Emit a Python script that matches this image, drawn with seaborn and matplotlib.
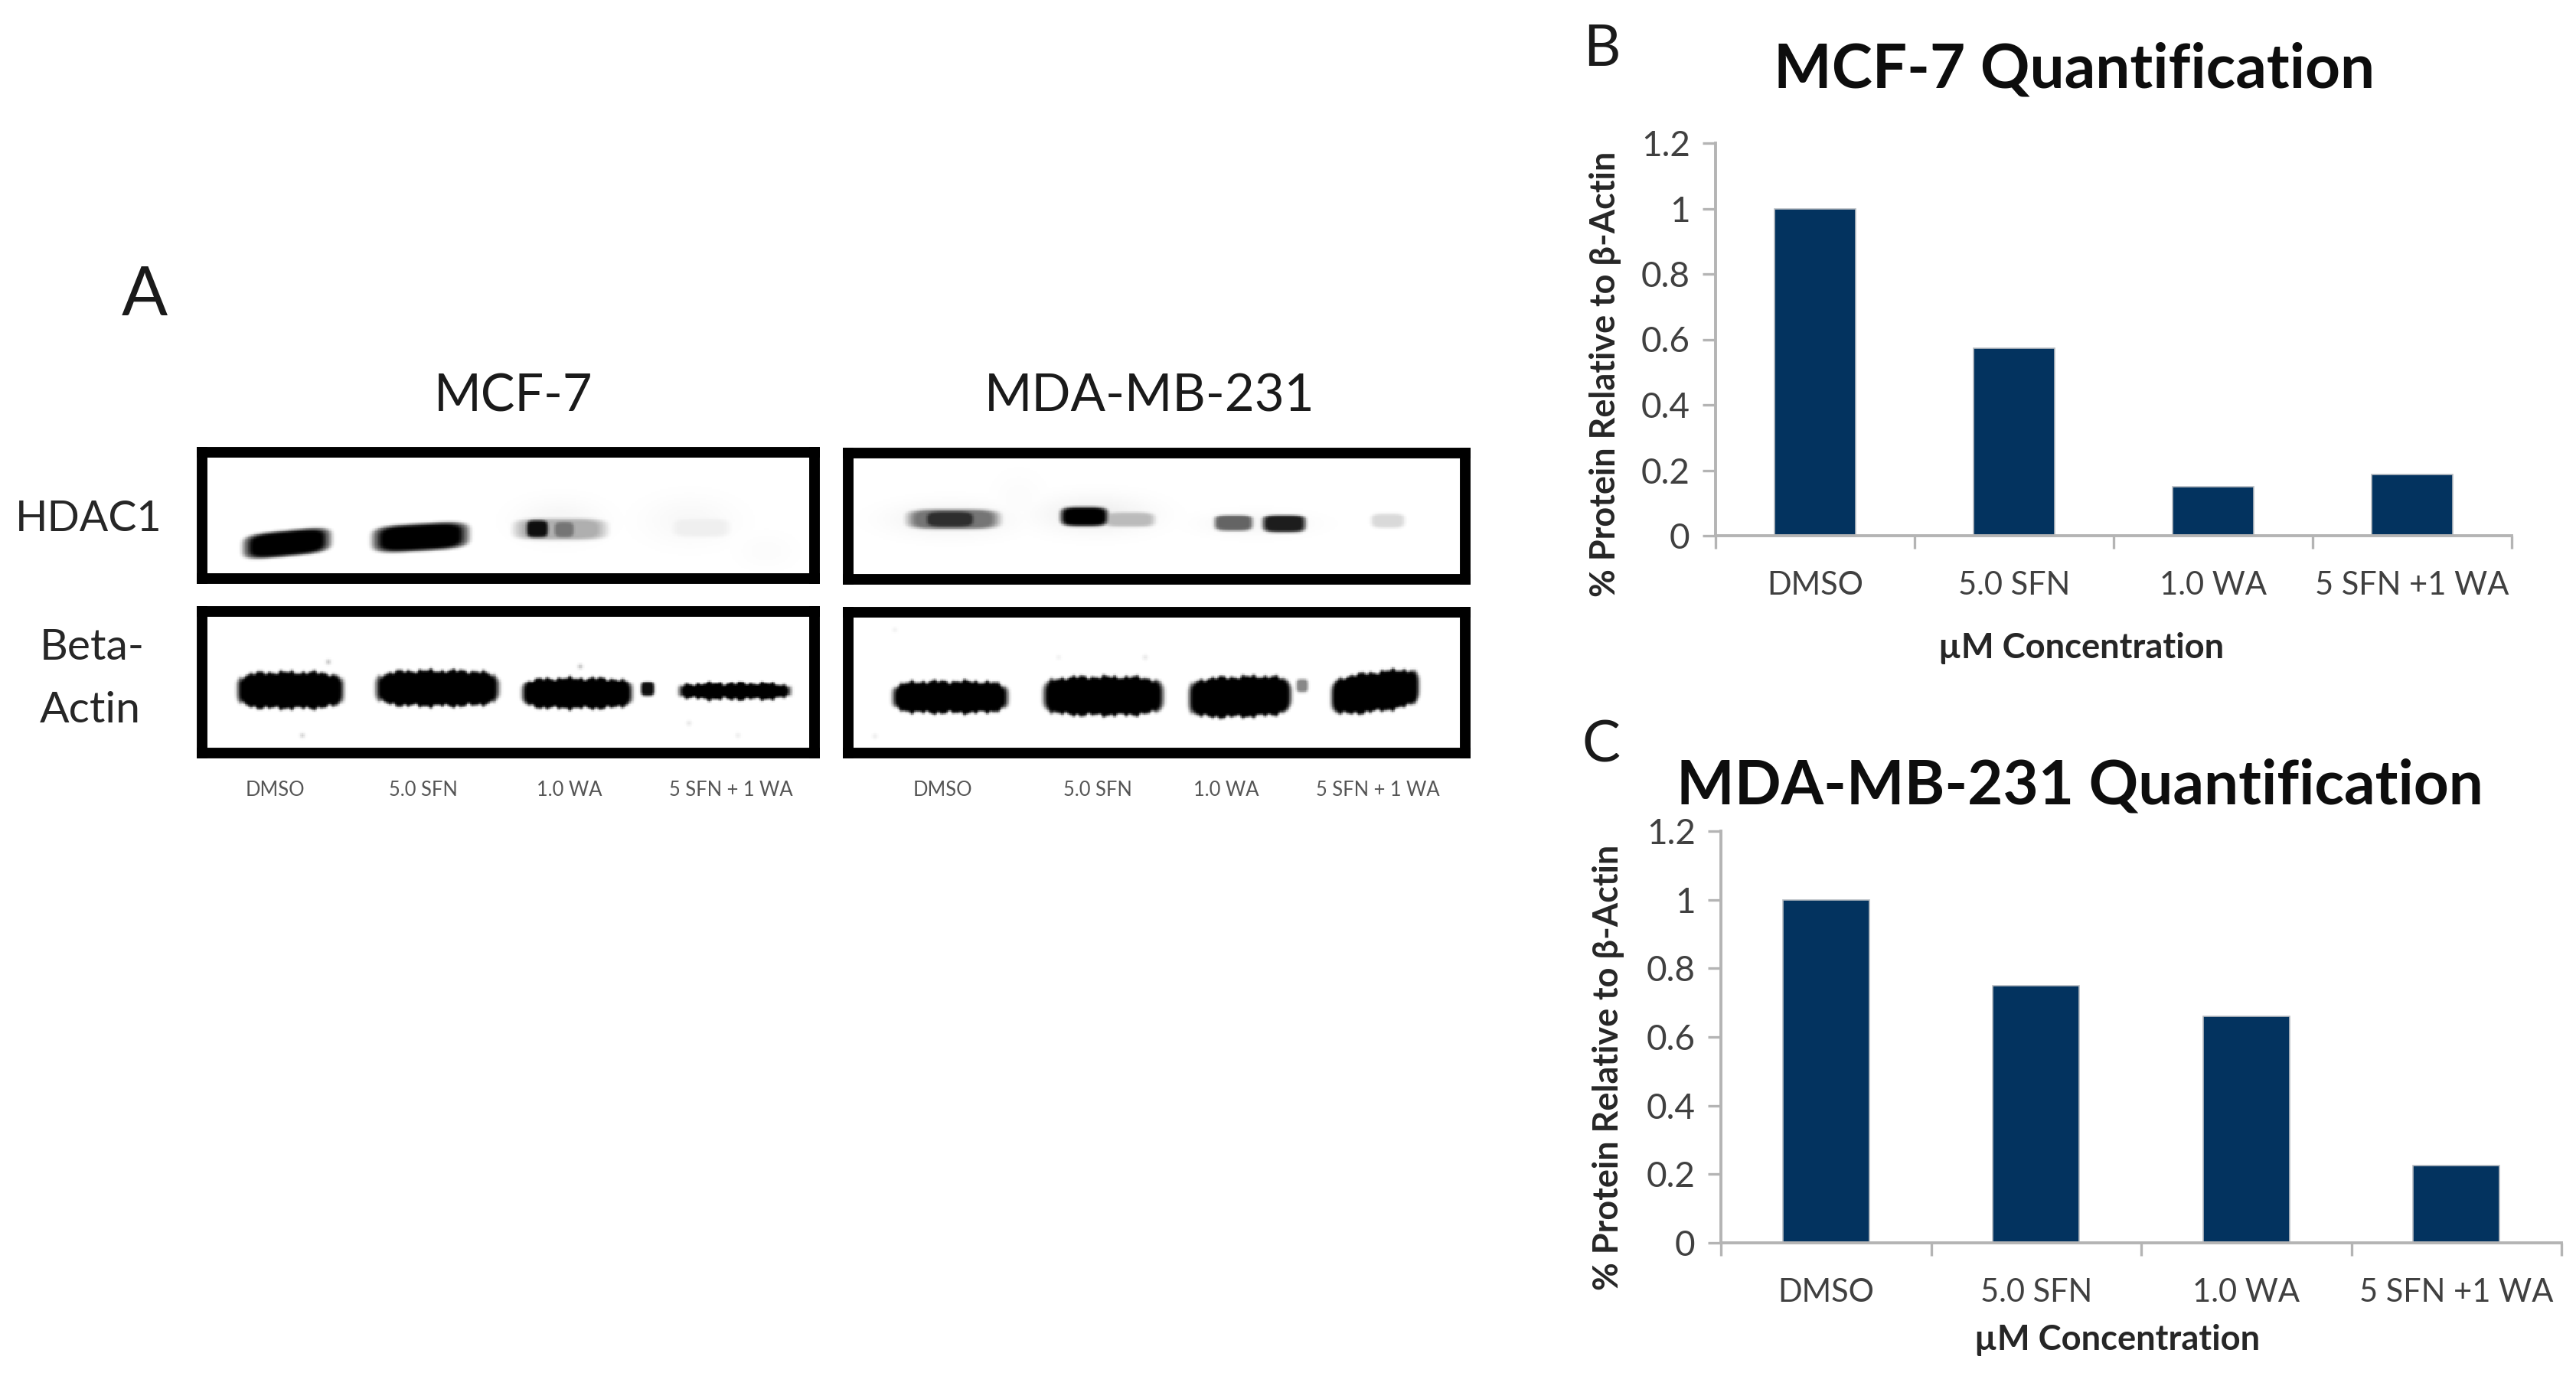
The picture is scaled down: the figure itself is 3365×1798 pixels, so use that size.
import numpy as np
import pandas as pd
import matplotlib
matplotlib.use('Agg')
import matplotlib.pyplot as plt
import seaborn as sns

W, H = 3365, 1798

treatments = ['DMSO', '5.0 SFN', '1.0 WA', '5 SFN +1 WA']
mcf7_values = [1.0, 0.573, 0.15, 0.187]
mda_values = [1.0, 0.75, 0.66, 0.226]
y_ticks = [0, 0.2, 0.4, 0.6, 0.8, 1, 1.2]
y_tick_labels = ['0', '0.2', '0.4', '0.6', '0.8', '1', '1.2']
lane_labels = ['DMSO', '5.0 SFN', '1.0 WA', '5 SFN + 1 WA']

# western blot bands, page pixels: x0, x1, y0, y1, darkness, tilt, roughness
mcf7_hdac = [(318, 430, 693, 727, 1.0, -0.10, 0), (487, 610, 684, 720, 1.0, -0.06, 0),
             (671, 791, 677, 706, 0.42, 0, 0), (686, 716, 679, 703, 0.95, 0, 0),
             (722, 750, 681, 703, 0.62, 0, 0), (877, 952, 677, 702, 0.13, 0, 0)]
mcf7_actin = [(309, 448, 877, 926, 1.0, 0, 1), (490, 651, 875, 923, 1.0, 0, 1),
              (681, 825, 885, 926, 1.0, 0, 1), (836, 854, 890, 910, 0.95, 0, 0),
              (886, 1032, 892, 914, 1.0, 0, 1)]
mda_hdac = [(1184, 1305, 664, 692, 0.62, 0, 0), (1205, 1275, 666, 690, 0.85, 0, 0),
            (1384, 1447, 661, 688, 1.0, 0, 0), (1440, 1508, 668, 689, 0.38, 0, 0),
            (1585, 1636, 672, 694, 0.68, 0, 0), (1648, 1705, 672, 696, 0.9, 0, 0),
            (1790, 1834, 670, 690, 0.25, 0, 0)]
mda_actin = [(1165, 1316, 889, 931, 1.0, 0, 1), (1362, 1519, 883, 934, 1.0, 0, 1),
             (1552, 1686, 883, 936, 1.0, -0.03, 1), (1692, 1708, 886, 904, 0.55, 0, 0),
             (1738, 1853, 877, 929, 1.0, -0.12, 1)]
# faint background smudges: x, y, sx, sy, darkness
mcf7_haze = [(730, 680, 55, 28, 0.08), (900, 680, 60, 32, 0.06), (1000, 720, 40, 25, 0.03)]
mda_haze = [(1330, 650, 35, 35, 0.03), (1240, 678, 75, 22, 0.12), (1430, 672, 70, 24, 0.14),
            (1640, 684, 70, 16, 0.08)]
# dust specks: x, y, darkness
mcf7_specks = [(428, 864, 0.5), (757, 870, 0.5), (394, 961, 0.4), (899, 945, 0.25), (963, 961, 0.2)]
mda_specks = [(1168, 822, 0.15), (1382, 858, 0.15), (1495, 858, 0.25), (1142, 961, 0.2)]

sns.set_style('white')
plt.rcParams['font.family'] = ['Lato', 'DejaVu Sans']

fig = plt.figure(figsize=(W / 200, H / 200), dpi=200)


def page_axes(x0, y0, x1, y1):
    return fig.add_axes([x0 / W, 1 - y1 / H, (x1 - x0) / W, (y1 - y0) / H])


def page_text(x, y, s, size, **kw):
    fig.text(x / W, 1 - y / H, s, fontsize=size, ha='center', va='center', **kw)


def soften(img):
    kernel = np.array([1, 2, 1]) / 4
    img = np.apply_along_axis(lambda r: np.convolve(r, kernel, mode='same'), 1, img)
    return np.apply_along_axis(lambda c: np.convolve(c, kernel, mode='same'), 0, img)


def blot(x0, y0, x1, y1, bands, haze=(), specks=()):
    # frame is drawn centred on the axes edge, so pull the axes in by half its width
    x0, y0, x1, y1 = x0 + 7, y0 + 7, x1 - 7, y1 - 7
    xs = np.arange(x0, x1, 2.0)
    ys = np.arange(y0, y1, 2.0)
    xx, yy = np.meshgrid(xs, ys)
    img = np.zeros_like(xx)
    for hx, hy, sx, sy, dark in haze:
        img = np.maximum(img, dark * np.exp(-((xx - hx) / sx) ** 2 - ((yy - hy) / sy) ** 2))
    for bx0, bx1, by0, by1, dark, tilt, rough in bands:
        cx, cy = (bx0 + bx1) / 2, (by0 + by1) / 2
        a, b = (bx1 - bx0) / 2, (by1 - by0) / 2
        wobble = rough * (1.5 * np.sin(xx * 0.45) + 1.2 * np.sin(xx * 0.17 + 1) + np.sin(xx * 0.83))
        dy = yy - cy - tilt * (xx - cx)
        d = (np.abs(xx - cx) / a) ** 4 + (np.abs(dy) / (b + wobble)) ** 4
        soft = 0.25 if rough else 0.6
        img = np.maximum(img, dark * np.clip((1 + soft - d) / (2 * soft), 0, 1))
    for sx, sy, dark in specks:
        img = np.maximum(img, dark * np.exp(-((xx - sx) ** 2 + (yy - sy) ** 2) / 9))
    ax = page_axes(x0, y0, x1, y1)
    sns.heatmap(pd.DataFrame(soften(img)), ax=ax, cmap='Greys', vmin=0, vmax=1, cbar=False,
                xticklabels=False, yticklabels=False)
    for s in ax.spines.values():
        s.set_visible(True)
        s.set_color('black')
        s.set_linewidth(5.0)
    ax.set_xlabel('')
    ax.set_ylabel('')


def quant_chart(pos, values, title, title_xy, ylabel_xy, xlabel_xy):
    ax = page_axes(*pos)
    df = pd.DataFrame({'treatment': treatments, 'value': values})
    sns.barplot(data=df, x='treatment', y='value', color='#03335f', saturation=1,
                width=0.41, ax=ax, edgecolor='#b8bcc2', linewidth=0.6)
    ax.set_xlim(-0.5, len(treatments) - 0.5)
    ax.set_ylim(0, 1.2)
    ax.set_yticks(y_ticks)
    ax.set_yticklabels(y_tick_labels)
    ax.set_xticks(np.arange(len(treatments) + 1) - 0.5, minor=True)
    ax.tick_params(axis='x', which='major', length=0, pad=16.5, labelsize=15, labelcolor='#404040')
    ax.tick_params(axis='x', which='minor', length=6, width=1.2, color='#b4b4b4', bottom=True)
    ax.tick_params(axis='y', length=6, width=1.2, color='#b4b4b4', left=True, pad=6,
                   labelsize=16.5, labelcolor='#404040')
    sns.despine(ax=ax)
    for side in ['left', 'bottom']:
        ax.spines[side].set_color('#b4b4b4')
        ax.spines[side].set_linewidth(1.4)
    ax.set_xlabel('µM Concentration', fontsize=16.3, fontweight='bold', color='#262626')
    ax.xaxis.set_label_coords(xlabel_xy[0] / W, 1 - xlabel_xy[1] / H, transform=fig.transFigure)
    ax.xaxis.label.set_va('center')
    ax.set_ylabel('% Protein Relative to β-Actin', fontsize=16.2, fontweight='bold', color='#262626')
    ax.yaxis.set_label_coords(ylabel_xy[0] / W, 1 - ylabel_xy[1] / H, transform=fig.transFigure)
    ax.yaxis.label.set_va('center')
    t = ax.set_title(title, fontsize=28.8, fontweight='bold', color='#0d0d0d', y=1.0)
    t.set_transform(fig.transFigure)
    t.set_position((title_xy[0] / W, 1 - title_xy[1] / H))
    t.set_va('center')


# panel A
blot(257, 584, 1071, 763, mcf7_hdac, mcf7_haze)
blot(1101, 585, 1921, 764, mda_hdac, mda_haze)
blot(257, 792, 1071, 991, mcf7_actin, specks=mcf7_specks)
blot(1101, 793, 1921, 991, mda_actin, specks=mda_specks)

page_text(189, 387, 'A', 32, color='#1a1a1a')
page_text(671, 519, 'MCF-7', 24, color='#1a1a1a')
page_text(1502, 519, 'MDA-MB-231', 24.2, color='#1a1a1a')
page_text(116, 679, 'HDAC1', 20, color='#262626')
page_text(120, 846, 'Beta-', 20.5, color='#262626')
page_text(118, 928, 'Actin', 20.5, color='#262626')

for x, s in zip([359, 553, 744, 955], lane_labels):
    page_text(x, 1032, s, 9.2, color='#555555')
for x, s in zip([1231, 1434, 1602, 1800], lane_labels):
    page_text(x, 1032, s, 9.2, color='#555555')

# panels B and C
page_text(2092, 64, 'B', 27, color='#1a1a1a')
page_text(2092, 974, 'C', 27, color='#1a1a1a')
quant_chart((2241, 187, 3281, 700), mcf7_values, 'MCF-7 Quantification',
            (2710, 92), (2097, 489), (2719, 847))
quant_chart((2248, 1086, 3346, 1624), mda_values, 'MDA-MB-231 Quantification',
            (2717, 1028), (2101, 1395), (2766, 1751))

fig.savefig('out.png', dpi=200, facecolor='white')
